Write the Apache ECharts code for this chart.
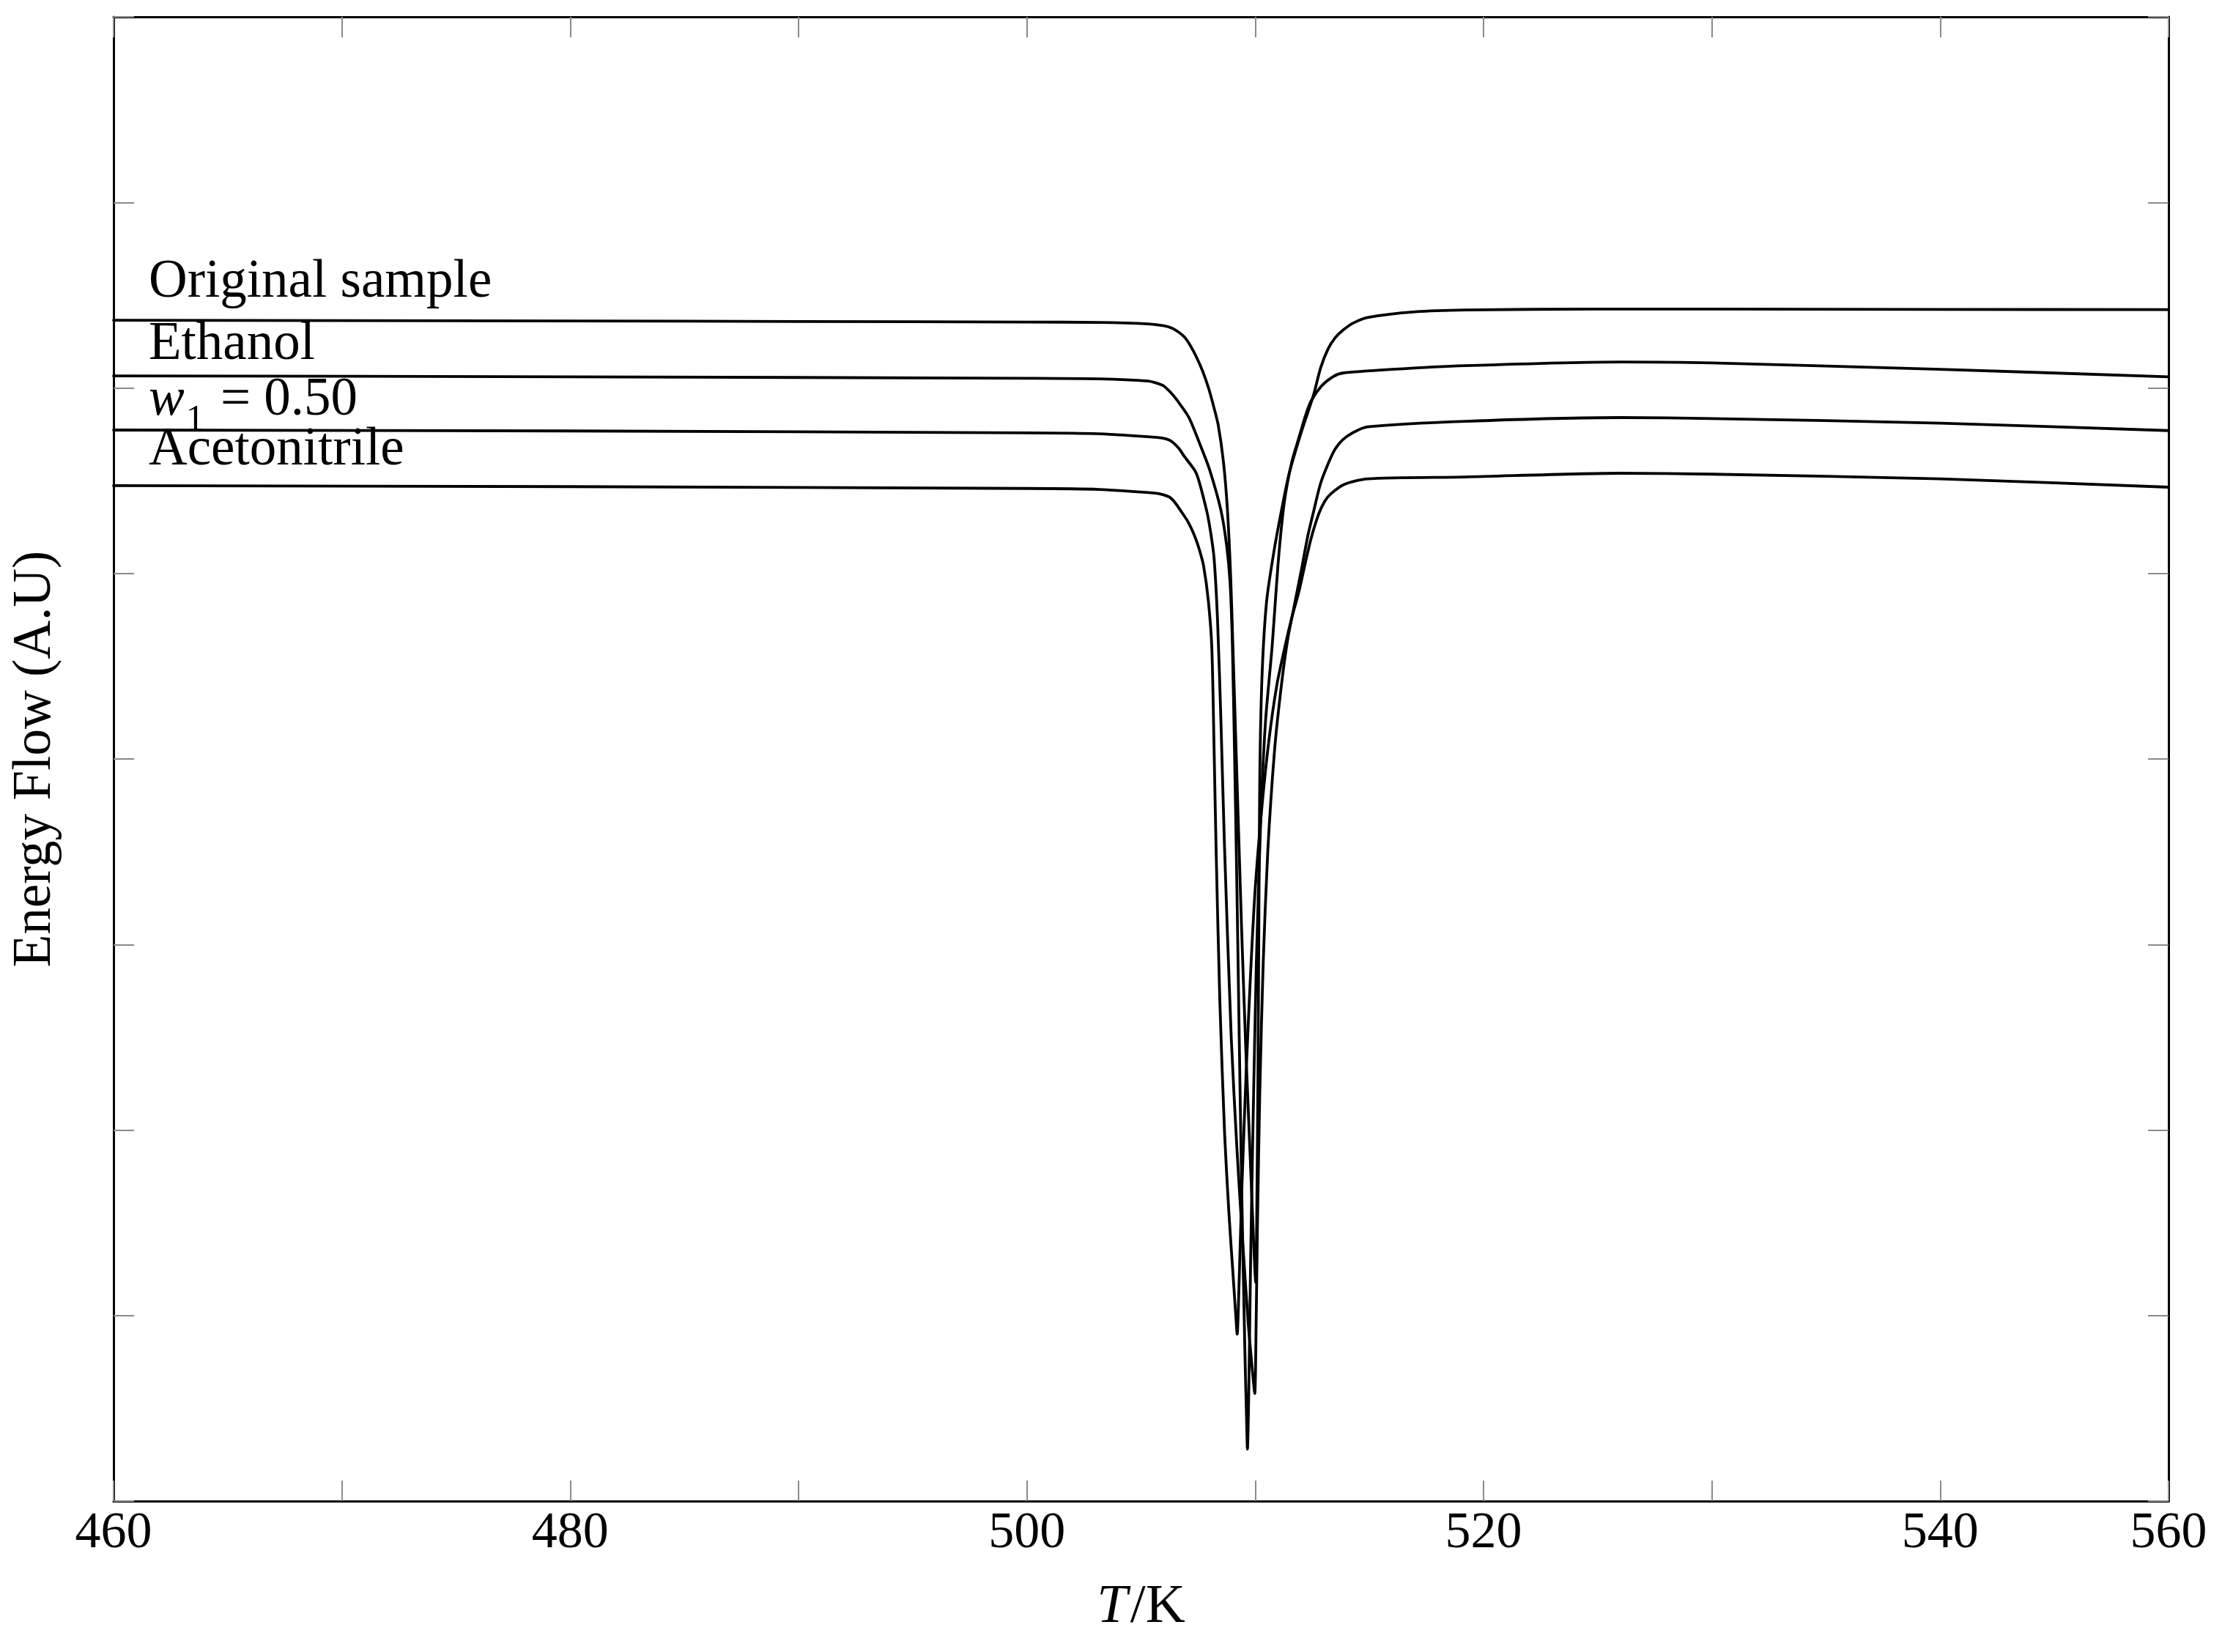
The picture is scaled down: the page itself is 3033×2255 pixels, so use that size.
<!DOCTYPE html>
<html>
<head>
<meta charset="utf-8">
<script src="https://cdn.jsdelivr.net/npm/echarts@6/dist/echarts.min.js"></script>
<style>
html,body{margin:0;padding:0;background:#fff;}
#chart{width:3033px;height:2255px;}
</style>
</head>
<body>
<div id="chart"></div>
<script>
// ---- data (T/K, energy flow in arbitrary units) ----
var xTickLabels = {460:'460',480:'480',500:'500',520:'520',540:'540',550:'560'};
var seriesNames = ['Original sample','Ethanol','w1 = 0.50','Acetonitrile'];

var originalSample = [
[460,6.365],[470,6.363],[480,6.361],[490,6.358],[500,6.355],[503.15,6.353],[505.3,6.345],[506.0,6.335],[506.36,6.322],
[506.65,6.30],[506.9,6.274],[507.15,6.23],[507.42,6.168],[507.7,6.09],[507.96,5.998],[508.18,5.90],[508.38,5.80],[508.61,5.60],
[508.78,5.35],[508.92,5.0],[509.02,4.62],[509.2,3.9],[509.4,3.1],[509.6,2.4],[509.8,1.8],[509.93,1.4],[510.02,1.18],
[510.07,1.55],[510.12,2.3],[510.16,3.1],[510.2,3.9],[510.3,4.45],[510.5,4.85],[510.85,5.14],[511.2,5.37],[511.49,5.54],
[512.04,5.77],[512.55,5.96],[512.87,6.11],[513.19,6.21],[513.5,6.27],[513.83,6.31],[514.3,6.35],[514.92,6.38],[517,6.41],
[519.19,6.42],[525,6.425],[530,6.425],[540,6.423],[550,6.422]
];
var ethanol = [
[460,6.065],[480,6.06],[500,6.052],[503.15,6.049],[505.3,6.037],[505.7,6.025],[506.0,6.01],[506.3,5.975],[506.6,5.93],
[507.1,5.84],[507.6,5.69],[508.0,5.56],[508.5,5.34],[508.75,5.15],[508.9,4.95],[509.0,4.62],[509.1,4.0],[509.2,3.3],
[509.3,2.5],[509.42,1.6],[509.55,0.8],[509.62,0.45],[509.66,0.28],[509.72,0.6],[509.8,1.3],[509.9,2.0],[510.05,2.9],
[510.25,3.7],[510.45,4.2],[510.75,4.62],[511.0,5.05],[511.27,5.38],[511.6,5.6],[511.91,5.73],[512.2,5.85],[512.45,5.93],
[512.9,6.01],[513.4,6.06],[513.83,6.08],[515.98,6.10],[519.19,6.12],[526,6.14],[530,6.135],[540,6.10],[550,6.06]
];
var w1_050 = [
[460,5.773],[480,5.768],[500,5.758],[503.15,5.753],[505.72,5.733],[506.1,5.725],[506.36,5.71],[506.65,5.675],[506.9,5.63],
[507.42,5.54],[507.87,5.34],[508.05,5.22],[508.2,5.08],[508.35,4.75],[508.5,4.2],[508.65,3.55],[508.95,2.5],[509.2,1.9],
[509.45,1.4],[509.7,0.95],[509.88,0.7],[509.98,0.58],[510.04,0.95],[510.1,1.5],[510.2,2.2],[510.35,2.9],[510.55,3.5],
[510.85,4.05],[511.15,4.4],[511.43,4.65],[511.75,4.85],[512.04,5.03],[512.3,5.2],[512.55,5.33],[512.85,5.48],[513.19,5.59],
[513.5,5.67],[513.83,5.72],[514.3,5.76],[514.92,5.79],[519.19,5.82],[526,5.84],[530,5.835],[540,5.81],[550,5.77]
];
var acetonitrile = [
[460,5.473],[480,5.468],[500,5.458],[503.15,5.453],[505.62,5.433],[505.95,5.425],[506.26,5.41],[506.5,5.38],[506.78,5.33],
[507.05,5.28],[507.32,5.21],[507.55,5.13],[507.74,5.04],[507.95,4.85],[508.1,4.6],[508.2,4.05],[508.29,3.5],[508.45,2.7],
[508.66,1.98],[508.85,1.55],[509.03,1.22],[509.15,1.0],[509.21,0.9],[509.3,1.2],[509.42,1.7],[509.6,2.3],[509.8,2.85],
[510.0,3.3],[510.3,3.75],[510.6,4.1],[510.95,4.4],[511.33,4.62],[511.6,4.76],[511.91,4.9],[512.2,5.06],[512.45,5.19],
[512.78,5.32],[513.05,5.39],[513.32,5.43],[513.9,5.48],[514.92,5.51],[519.19,5.52],[526,5.54],[530,5.535],[540,5.51],[550,5.465]
];

var FONT = '"Liberation Serif", "DejaVu Serif", serif';
var chart = echarts.init(document.getElementById('chart'), null, {renderer:'canvas'});

function lineSeries(name, data){
  return {name:name, type:'line', data:data, showSymbol:false, smooth:0.25,
    lineStyle:{color:'#000', width:3.8, join:'round', cap:'round'}, z:5, animation:false};
}
var frameLine = {show:true, onZero:false, lineStyle:{color:'#000', width:3}};
var tick = {show:true, inside:true, length:28, lineStyle:{color:'#8a8a8a', width:2}};

chart.setOption({
  animation:false,
  backgroundColor:'#fff',
  grid:{left:155, right:73, top:23, bottom:206, containLabel:false},
  xAxis:[{
    type:'value', min:460, max:550, interval:10, position:'bottom',
    axisLine:frameLine, axisTick:tick, splitLine:{show:false},
    axisLabel:{show:true, margin:10, color:'#000', fontFamily:FONT, fontSize:70,
      formatter:function(v){ return xTickLabels[v] !== undefined ? xTickLabels[v] : ''; }},
    name:'{it|T}/K', nameLocation:'middle', nameGap:108,
    nameTextStyle:{color:'#000', fontFamily:FONT, fontSize:75,
      rich:{it:{fontStyle:'italic', fontFamily:FONT, fontSize:75, color:'#000', padding:[0,4,0,0]}}}
  },{
    type:'value', min:460, max:550, interval:10, position:'top',
    axisLine:frameLine, axisTick:tick, axisLabel:{show:false}, splitLine:{show:false}
  }],
  yAxis:[{
    type:'value', min:0, max:8, interval:1, position:'left',
    axisLine:frameLine, axisTick:tick, axisLabel:{show:false}, splitLine:{show:false},
    name:'Energy Flow (A.U)', nameLocation:'middle', nameGap:70, nameRotate:90,
    nameTextStyle:{color:'#000', fontFamily:FONT, fontSize:73}
  },{
    type:'value', min:0, max:8, interval:1, position:'right',
    axisLine:frameLine, axisTick:tick, axisLabel:{show:false}, splitLine:{show:false}
  }],
  series:[
    lineSeries(seriesNames[0], originalSample),
    lineSeries(seriesNames[1], ethanol),
    lineSeries(seriesNames[2], w1_050),
    lineSeries(seriesNames[3], acetonitrile)
  ],
  graphic:[
    {type:'text', left:203, top:349, style:{text:'Original sample', fill:'#000', font:'73px '+FONT}},
    {type:'text', left:203, top:434, style:{text:'Ethanol', fill:'#000', font:'73px '+FONT}},
    {type:'text', left:203, top:510, style:{text:'{it|w}{sub|1}{n| = 0.50}', fill:'#000', font:'73px '+FONT,
      rich:{
        it:{fontStyle:'italic', fontSize:73, fontFamily:FONT, verticalAlign:'bottom', padding:[0,0,16,0]},
        sub:{fontSize:50, fontFamily:FONT, verticalAlign:'bottom', padding:[0,4,0,2]},
        n:{fontSize:73, fontFamily:FONT, verticalAlign:'bottom', padding:[0,0,16,0]}
      }}},
    {type:'text', left:203, top:578, style:{text:'Acetonitrile', fill:'#000', font:'73px '+FONT}}
  ]
});
</script>
</body>
</html>
